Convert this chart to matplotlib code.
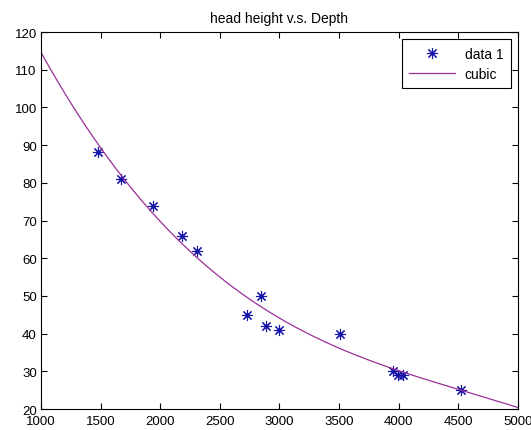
import matplotlib.pyplot as plt
import numpy as np

# punkty
depth = [1475, 1668, 1939, 2180, 2308, 2727, 2842, 2887, 2993, 3505, 3949, 3994, 4039, 4522]
height = [88.1, 80.9, 73.9, 66.0, 61.9, 44.9, 49.9, 42.1, 41.0, 40.0, 30.2, 29.1, 29.1, 25.0]

# punkty krzywej "cubic"
curve_x = [1000, 1500, 1956, 2333, 2842, 3500, 4000, 4500, 5000]
curve_y = [114.6, 89.4, 70.8, 59.8, 47.4, 35.9, 30.0, 25.5, 20.3]

xticks = [1000, 1500, 2000, 2500, 3000, 3500, 4000, 4500, 5000]
yticks = [20, 30, 40, 50, 60, 70, 80, 90, 100, 110, 120]

# gladka krzywa 3 stopnia przez odczytane punkty
p = np.polyfit(curve_x, curve_y, 3)
X = np.linspace(curve_x[0], curve_x[-1], 400)
Y = np.polyval(p, X)

plt.rcParams['font.family'] = ['Liberation Sans', 'DejaVu Sans']
fig = plt.figure(figsize=(5.31, 4.31), dpi=100)
ax = fig.add_axes([0.0772, 0.0487, 0.8983, 0.8747])

ax.plot(depth, height, linestyle='none', marker=(8, 2, 0), color='#1414a8',
        markersize=8, markeredgewidth=0.8, label='data 1')
ax.plot(depth, height, linestyle='none', marker='o', color='#1414a8', markersize=2)
ax.plot(X, Y, '-', color='#9a2f9a', linewidth=0.9, label='cubic')

ax.set_xlim(1000, 5000)
ax.set_ylim(20, 120)
ax.set_xticks(xticks)
ax.set_yticks(yticks)
ax.tick_params(direction='in', top=True, right=True, labelsize=9.5, length=4)
ax.tick_params(axis='x', pad=4)
ax.tick_params(axis='y', pad=3)
for s in ax.spines.values():
    s.set_linewidth(0.8)
ax.set_title('head height v.s. Depth', fontsize=10, pad=7)

leg = ax.legend(loc='upper right', fontsize=10, fancybox=False, edgecolor='black',
                framealpha=1, borderaxespad=0.5, handlelength=3.3, labelspacing=0.45,
                borderpad=0.55, handletextpad=0.7)
leg.get_frame().set_linewidth(0.8)
for t in leg.get_texts():
    t.set_ha('right')
leg._legend_box.align = 'right'

plt.savefig('out.png', dpi=100)
